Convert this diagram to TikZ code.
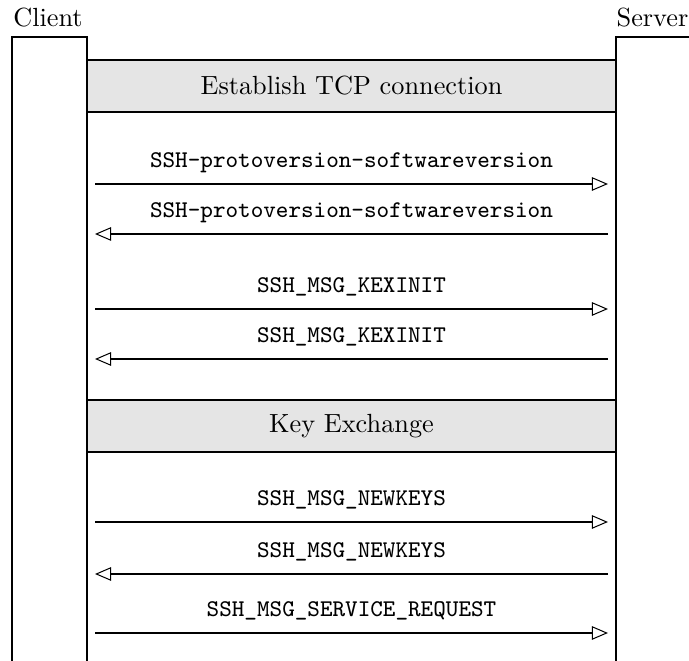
\documentclass[tikz,border=0pt]{standalone}
\usepackage{tikz}
\usetikzlibrary{arrows.meta,positioning}
\newcommand{\SshFlowPx}{0.392pt}

\tikzset{
	lifeline/.style={draw=black, line width=0.4pt},
	party/.style={font=\fontsize{10.3}{12.4}\selectfont},
	phase/.style={draw=black, fill=black!10, minimum width=529*\SshFlowPx, minimum height=52*\SshFlowPx, inner sep=0pt, font=\fontsize{10.3}{12.4}\selectfont},
	msg/.style={-{Triangle[open, length=6.3pt, width=5.3pt]}, line width=0.4pt},
	msglabel/.style={above=1.5pt, text height=6.5pt, text depth=1.5pt, font=\fontsize{9.4}{11}\selectfont\ttfamily},
}

\begin{document}
\begin{tikzpicture}[x=\SshFlowPx, y=-\SshFlowPx]
		\useasboundingbox (0,0) rectangle (689,661);

		% parties
		\node [party] (client) at (48,18) {Client};
		\node [party] (server) at (652.5,18) {Server};
		\coordinate (clientTL) at (12,37);
		\coordinate (clientTR) at (87,37);
		\coordinate (serverTL) at (616,37);
		\coordinate (serverTR) at (689,37);
		\draw [lifeline] (clientTL |- 0,661) -- (clientTL) -- (clientTR) -- (clientTR |- 0,661);
		\draw [lifeline] (serverTL |- 0,661) -- (serverTL) -- (serverTR);

		% phases
		\node [phase] (tcp) at (351.5,86) {Establish TCP connection};
		\node [phase] (kex) at (351.5,426) {Key Exchange};

		% messages
		\coordinate (c1) at (95,184);  \coordinate (s1) at (608,184);
		\coordinate (c2) at (95,234);  \coordinate (s2) at (608,234);
		\coordinate (c3) at (95,309);  \coordinate (s3) at (608,309);
		\coordinate (c4) at (95,359);  \coordinate (s4) at (608,359);
		\coordinate (c5) at (95,522);  \coordinate (s5) at (608,522);
		\coordinate (c6) at (95,574);  \coordinate (s6) at (608,574);
		\coordinate (c7) at (95,633);  \coordinate (s7) at (608,633);

		\draw [msg] (c1) -- node [msglabel] {SSH-protoversion-softwareversion} (s1);
		\draw [msg] (s2) -- node [msglabel] {SSH-protoversion-softwareversion} (c2);
		\draw [msg] (c3) -- node [msglabel] {SSH\_MSG\_KEXINIT} (s3);
		\draw [msg] (s4) -- node [msglabel] {SSH\_MSG\_KEXINIT} (c4);
		\draw [msg] (c5) -- node [msglabel] {SSH\_MSG\_NEWKEYS} (s5);
		\draw [msg] (s6) -- node [msglabel] {SSH\_MSG\_NEWKEYS} (c6);
		\draw [msg] (c7) -- node [msglabel] {SSH\_MSG\_SERVICE\_REQUEST} (s7);
	\end{tikzpicture}
\end{document}
